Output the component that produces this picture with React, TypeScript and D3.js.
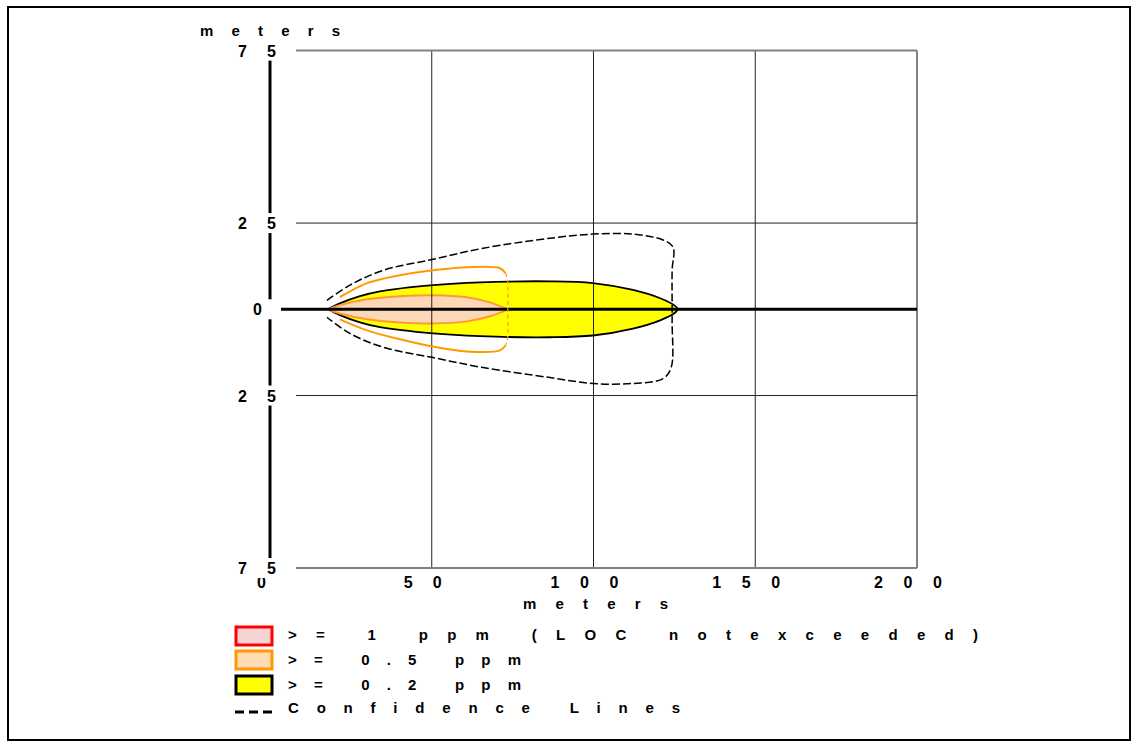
import React from "react";
import * as d3 from "d3";

// ---- data ----
const X_TICKS = [0, 50, 100, 150, 200];
const Y_TICKS = [75, 25, 0, -25, -75];
const X_GRID = [50, 100, 150, 200];
const Y_GRID = [75, 25, -25, -75];

// >= 0.2 ppm footprint (downwind x, half-width)
const zone02X = [17.9, 21.6, 27.8, 34.0, 50.4, 64.9, 86.6, 99.8, 112.2, 120.6, 125.2, 126.1];
const zone02Half = [0, 1.7, 3.8, 5.2, 7.0, 7.8, 8.1, 7.6, 5.6, 3.2, 1.0, 0];

// >= 0.5 ppm footprint
const zone05X = [17.9, 21.6, 30.0, 40.2, 50.4, 60.9, 68.0, 73.6];
const zone05Half = [0, 1.2, 2.9, 3.8, 4.1, 3.5, 2.0, 0];

// confidence line for 0.2 ppm (path order)
const conf02X = [17.6, 24.7, 35.0, 50.4, 65.9, 86.6, 99.8, 112.2, 121.5, 124.6, 124.3, 124.3, 124.0, 121.5, 112.2, 99.8, 86.6, 65.9, 50.4, 35.0, 24.7, 17.6];
const conf02Y = [2.6, 7.0, 11.3, 14.5, 17.7, 20.6, 21.8, 21.8, 20.1, 18.0, 11.3, -3.2, -16.9, -20.1, -21.5, -21.5, -19.8, -16.9, -14.0, -11.0, -7.0, -2.3];

// confidence line for 0.5 ppm
const conf05X = [21.6, 30.0, 40.2, 50.4, 60.9, 71.1, 72.8];
const conf05Upper = [3.5, 7.6, 9.9, 11.3, 12.2, 11.9, 10.5];
const conf05Lower = [-2.9, -6.1, -8.7, -10.8, -12.2, -11.9, -10.5];
const conf05EndX = [72.8, 73.4, 73.5, 73.4, 72.8];
const conf05EndY = [10.5, 8.5, 0, -8.5, -10.5];

const LEGEND_LABELS = [">= 1 ppm (LOC notexceeded)", ">= 0.5 ppm", ">= 0.2 ppm", "Confidence Lines"];

const FONT = "'Liberation Sans', Arial, sans-serif";

export default function App() {
  const x = d3.scaleLinear().domain([0, 200]).range([270, 917]);
  const y = d3.scaleLinear().domain([-75, 75]).range([568, 50.6]);

  const area02 = d3
    .area<number>()
    .x((_, i) => x(zone02X[i]))
    .y0((_, i) => y(-zone02Half[i]))
    .y1((_, i) => y(zone02Half[i]))
    .curve(d3.curveCatmullRom.alpha(0.5))(zone02X);

  const area05 = d3
    .area<number>()
    .x((_, i) => x(zone05X[i]))
    .y0((_, i) => y(-zone05Half[i]))
    .y1((_, i) => y(zone05Half[i]))
    .curve(d3.curveCatmullRom.alpha(0.5))(zone05X);

  const line = d3
    .line<[number, number]>()
    .x((d) => x(d[0]))
    .y((d) => y(d[1]))
    .curve(d3.curveCatmullRom.alpha(0.5));

  const conf02 = line(conf02X.map((v, i) => [v, conf02Y[i]] as [number, number]));
  const conf05U = line(conf05X.map((v, i) => [v, conf05Upper[i]] as [number, number]));
  const conf05L = line(conf05X.map((v, i) => [v, conf05Lower[i]] as [number, number]));
  const conf05E = line(conf05EndX.map((v, i) => [v, conf05EndY[i]] as [number, number]));

  const pitch = 30;
  const glyphW = 8;
  const yLabelCenter = x(0) - 13;

  const legendRows = [
    { stroke: "#FF0000", fill: "#F6D3D3" },
    { stroke: "#FF9900", fill: "#FFDAB5" },
    { stroke: "#000000", fill: "#FFFF00" },
  ];
  const legendLen = [690, 233, 233, 392];
  const legendBase = [640, 665, 690, 713];
  const boxTop = [627, 651, 676];

  return (
    <svg
      width={1138}
      height={749}
      style={{ position: "absolute", left: 0, top: 0, background: "#fff" }}
      fontFamily={FONT}
      fontWeight="bold"
    >
      <rect x={0} y={0} width={1138} height={749} fill="#fff" />
      <rect x={8} y={7} width={1122} height={733} fill="none" stroke="#000" strokeWidth={2} />

      {/* fills */}
      <path d={area02 || ""} fill="#FFFF00" stroke="#000" strokeWidth={1.8} />
      <path d={area05 || ""} fill="#FCD8B6" stroke="#FF9933" strokeWidth={2} />

      {/* grid */}
      {X_GRID.map((v) => (
        <line
          key={"gx" + v}
          x1={x(v)}
          x2={x(v)}
          y1={y(75)}
          y2={y(-75)}
          stroke={v === 200 ? "#808080" : "#222"}
          strokeWidth={v === 200 ? 2 : 1}
        />
      ))}
      {Y_GRID.map((v) => (
        <line
          key={"gy" + v}
          x1={x(0)}
          x2={x(200)}
          y1={y(v)}
          y2={y(v)}
          stroke={Math.abs(v) === 75 ? "#808080" : "#222"}
          strokeWidth={Math.abs(v) === 75 ? 2 : 1}
        />
      ))}

      {/* centerline and y axis */}
      <line x1={x(0)} x2={x(200)} y1={y(0)} y2={y(0)} stroke="#000" strokeWidth={3} />
      <line x1={x(0)} x2={x(0)} y1={y(75)} y2={y(-75)} stroke="#000" strokeWidth={3} />

      {/* confidence lines */}
      <path d={conf02 || ""} fill="none" stroke="#000" strokeWidth={1.5} strokeDasharray="8,3" />
      <path d={conf05U || ""} fill="none" stroke="#FF9900" strokeWidth={2} />
      <path d={conf05L || ""} fill="none" stroke="#FF9900" strokeWidth={2} />
      <path d={conf05E || ""} fill="none" stroke="#FF9900" strokeWidth={1.2} strokeDasharray="4,3" />

      {/* x tick labels */}
      {X_TICKS.map((v) => {
        const s = String(v);
        const w = pitch * (s.length - 1) + glyphW;
        const start = x(v) - 9 - w / 2;
        return (
          <text key={"xt" + v} x={start} y={588} fontSize={16} textLength={s.length > 1 ? w : undefined} lengthAdjust="spacing">
            {s}
          </text>
        );
      })}

      {/* y tick labels with knock-out boxes */}
      {Y_TICKS.map((v) => {
        const s = String(Math.abs(v));
        const w = pitch * (s.length - 1) + glyphW;
        const start = yLabelCenter - w / 2;
        return (
          <g key={"yt" + v}>
            <rect x={start - 20} y={y(v) - 10} width={w + 40} height={20} fill="#fff" />
            <text x={start} y={y(v) + 6} fontSize={16} textLength={s.length > 1 ? w : undefined} lengthAdjust="spacing">
              {s}
            </text>
          </g>
        );
      })}

      {/* axis titles */}
      <text x={200} y={36} fontSize={15} textLength={140} lengthAdjust="spacing">
        meters
      </text>
      <text x={523} y={609} fontSize={15} textLength={145} lengthAdjust="spacing">
        meters
      </text>

      {/* legend */}
      {legendRows.map((r, i) => (
        <rect key={"lb" + i} x={236} y={boxTop[i]} width={36} height={18} fill={r.fill} stroke={r.stroke} strokeWidth={3} />
      ))}
      <line x1={235} x2={272} y1={712} y2={712} stroke="#000" strokeWidth={3} strokeDasharray="9,5" />
      {LEGEND_LABELS.map((t, i) => (
        <text key={"lt" + i} x={288} y={legendBase[i]} fontSize={15} textLength={legendLen[i]} lengthAdjust="spacing">
          {t}
        </text>
      ))}
    </svg>
  );
}
